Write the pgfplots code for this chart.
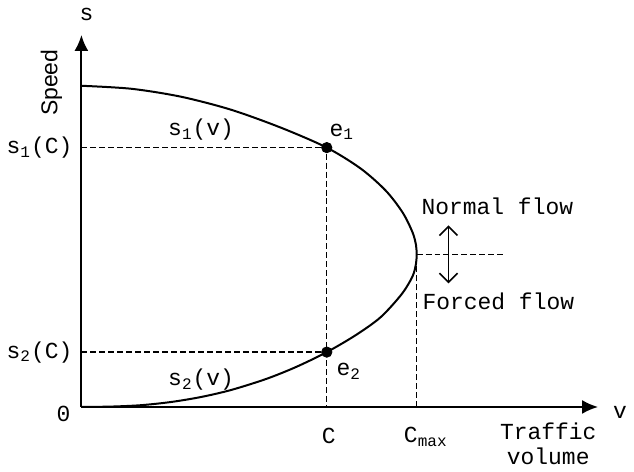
\documentclass[border=0pt]{standalone}
\usepackage{pgfplots}
\pgfplotsset{compat=1.18}
\usetikzlibrary{arrows.meta}
\usepackage{fontspec}
\setmainfont{Liberation Mono}
\newfontfamily\sansf{Liberation Sans}
\begin{document}
\begin{tikzpicture}
\begin{axis}[
  x=0.5pt, y=0.5pt,
  xmin=0, xmax=518, ymin=0, ymax=373,
  axis lines=left,
  axis line style={line width=1.1pt, -{Latex[length=8pt,width=7pt]}},
  xtick=\empty, ytick=\empty,
  clip=false,
  font=\fontsize{11.5}{12.5}\selectfont,
]
\path (axis cs:-80,-62) rectangle (axis cs:554,408);
% speed-flow curve
\addplot[black, line width=1pt, smooth, tension=0.5] coordinates {
(0,322) (50,319) (100,311) (150,298) (200,280) (246,260) (280,239) (305,217)
(322,195) (332,175) (335.5,162) (336,153) (335.5,144) (332,131) (321,113) (300,90)
(275,72) (246,55) (215,40) (185,28) (150,17) (120,10) (90,5) (60,1.8) (30,0.4) (0,0)};
% dashed guides
\addplot[black, line width=0.7pt, dash pattern=on 3pt off 1.5pt] coordinates {(0,260) (246,260) (246,0)};
\addplot[black, line width=0.7pt, dash pattern=on 3pt off 1.5pt] coordinates {(0,55) (246,55)};
\addplot[black, line width=0.7pt, dash pattern=on 3pt off 1.5pt] coordinates {(336,0) (336,153) (425,153)};
% double arrow
\addplot[black, line width=0.8pt, {Straight Barb[length=4.5pt,width=9pt]}-{Straight Barb[length=4.5pt,width=9pt]}] coordinates {(368,182) (368,124)};
% equilibrium points
\addplot[only marks, mark=*, mark size=2.6pt, black] coordinates {(246,260) (246,55)};
% labels
\node at (axis cs:5,393) {s};
\node[rotate=90] at (axis cs:-30,325) {\sansf Speed};
\node[anchor=east] at (axis cs:-2,260) {s\textsubscript{1}(C)};
\node[anchor=east] at (axis cs:-2,55) {s\textsubscript{2}(C)};
\node at (axis cs:-18,-7) {0};
\node at (axis cs:120,278) {s\textsubscript{1}(v)};
\node at (axis cs:120,27) {s\textsubscript{2}(v)};
\node at (axis cs:261,276) {e\textsubscript{1}};
\node at (axis cs:268,36) {e\textsubscript{2}};
\node at (axis cs:248,-29) {C};
\node[anchor=west, inner sep=0pt] at (axis cs:323,-30) {C\textsubscript{max}};
\node at (axis cs:417,201) {Normal flow};
\node at (axis cs:418,106) {Forced flow};
\node at (axis cs:540,-5) {v};
\node[align=center] at (axis cs:468,-37) {Traffic\\volume};
\end{axis}
\end{tikzpicture}
\end{document}
